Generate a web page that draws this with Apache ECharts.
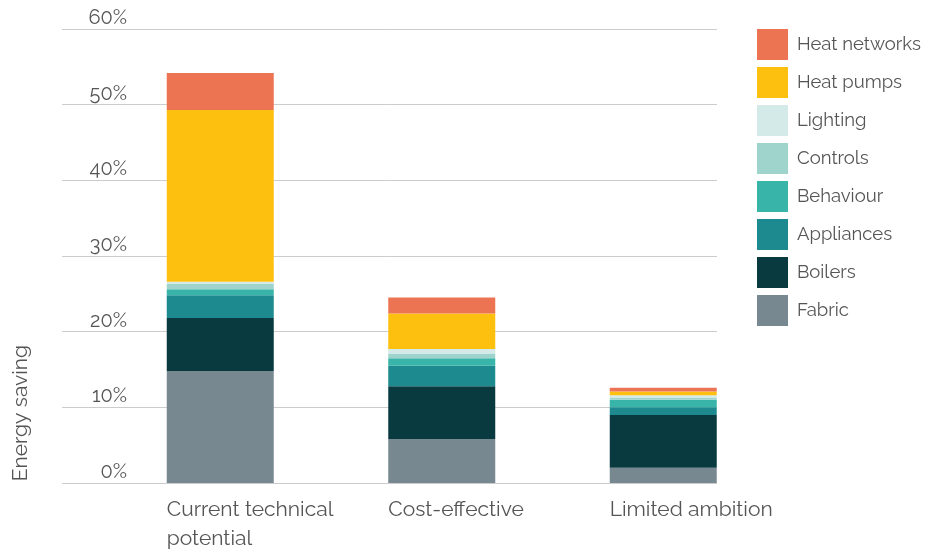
<!DOCTYPE html>
<html>
<head>
<meta charset="utf-8">
<script src="https://cdn.jsdelivr.net/npm/echarts@6/dist/echarts.min.js"></script>
<style>html,body{margin:0;padding:0;background:#fff;}#c{width:929px;height:553px;}</style>
</head>
<body>
<div id="c"></div>
<script>
const categories = ['Current technical\npotential', 'Cost-effective', 'Limited ambition'];
const fabric       = [14.8, 5.8, 2.0];
const boilers      = [7.0, 7.0, 7.0];
const appliances   = [3.0, 2.7, 1.0];
const behaviour    = [0.8, 1.0, 1.0];
const controls     = [0.7, 0.6, 0.3];
const lighting     = [0.3, 0.6, 0.3];
const heatPumps    = [22.7, 4.7, 0.5];
const heatNetworks = [4.9, 2.1, 0.5];
const yTicks = [0, 10, 20, 30, 40, 50, 60];

const seriesDefs = [
  ['Fabric', fabric, '#788890'],
  ['Boilers', boilers, '#083A40'],
  ['Appliances', appliances, '#1D8A8F'],
  ['Behaviour', behaviour, '#38B4A9'],
  ['Controls', controls, '#9FD4CD'],
  ['Lighting', lighting, '#D4EAE8'],
  ['Heat pumps', heatPumps, '#FDC00F'],
  ['Heat networks', heatNetworks, '#EC7453']
];

const FONT = 'Raleway, Lato, "Noto Sans", sans-serif';
const TXT = '#555';

const chart = echarts.init(document.getElementById('c'));
chart.setOption({
  animation: false,
  backgroundColor: '#fff',
  grid: [
    {left: 62, right: 212, top: 29, bottom: 70},
    {left: 109.5, right: 155, top: 29, bottom: 70},
    {left: 56, right: 208.5, top: 29, bottom: 70}
  ],
  legend: {
    orient: 'vertical',
    left: 757, top: 29, padding: 0,
    itemWidth: 31, itemHeight: 31, itemGap: 7,
    icon: 'rect',
    data: seriesDefs.map(d => d[0]).reverse(),
    textStyle: {fontFamily: FONT, fontSize: 18.5, color: TXT, padding: [2, 0, 0, 4]}
  },
  xAxis: [
    {type: 'category', gridIndex: 0, data: categories, show: false},
    {type: 'category', gridIndex: 1, data: categories,
      axisLine: {show: false}, axisTick: {show: false}, axisLabel: {show: false}},
    {type: 'category', gridIndex: 2, data: categories,
      axisLine: {show: false}, axisTick: {show: false},
      axisLabel: {fontFamily: FONT, fontSize: 21, color: TXT, align: 'left', margin: 24, lineHeight: 29, interval: 0}}
  ],
  yAxis: [
    {type: 'value', gridIndex: 0, min: 0, max: 60, interval: 10,
      axisLine: {show: false}, axisTick: {show: false},
      splitLine: {lineStyle: {color: '#cccccc', width: 1}},
      axisLabel: {formatter: v => v + '%', fontFamily: FONT, fontSize: 20, color: TXT,
        align: 'right', verticalAlign: 'bottom', margin: -65, padding: [0, 0, 1, 0]}},
    {type: 'value', gridIndex: 1, min: 0, max: 60, interval: 10, show: false},
    {type: 'value', gridIndex: 2, min: 0, max: 60, interval: 10, show: false}
  ],
  graphic: [{
    type: 'text', left: 10, top: 345, rotation: Math.PI / 2,
    style: {text: 'Energy saving', fontFamily: FONT, fontSize: 21, fill: TXT}
  }],
  series: seriesDefs.map(d => ({
    name: d[0], type: 'bar', stack: 'total', data: d[1],
    xAxisIndex: 1, yAxisIndex: 1,
    barWidth: 107,
    itemStyle: {color: d[2]}
  }))
});
</script>
</body>
</html>
